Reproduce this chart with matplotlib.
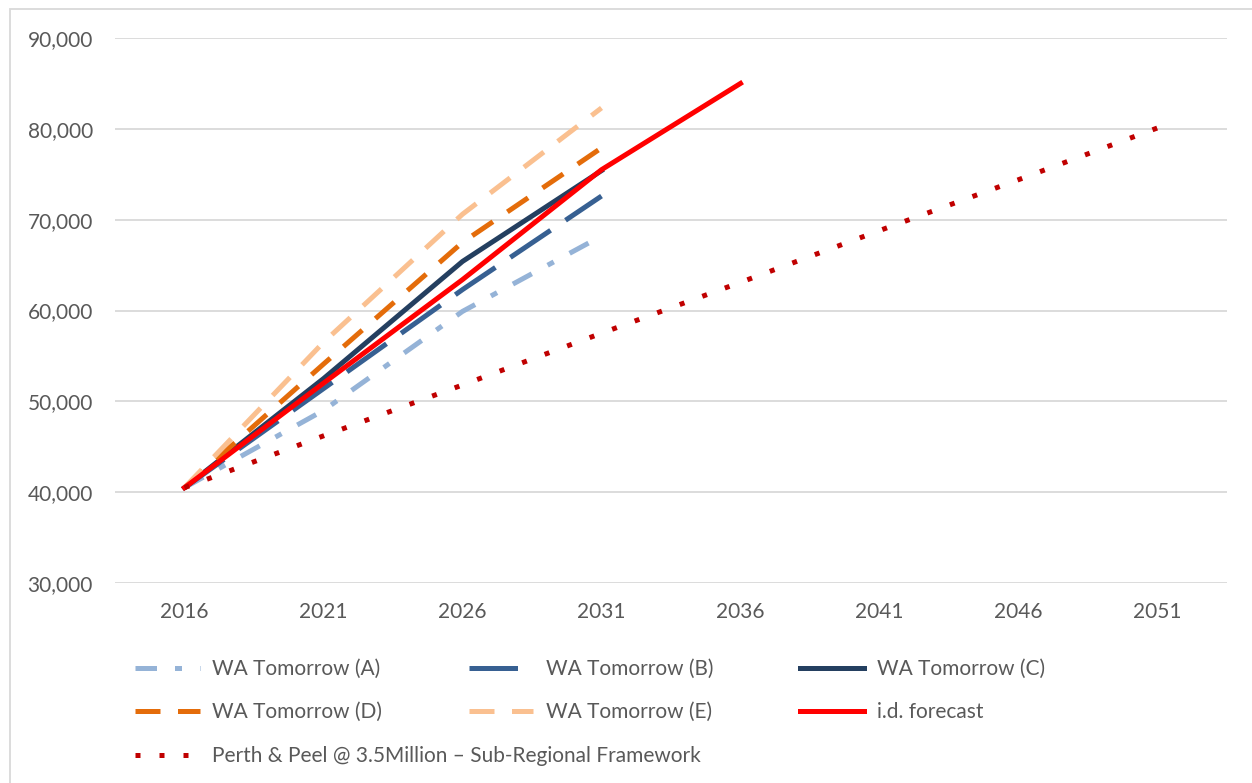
import numpy as np
import matplotlib.pyplot as plt
from matplotlib.patches import Rectangle

plt.rcParams['font.family'] = ['Lato', 'DejaVu Sans']

years = ['2016', '2021', '2026', '2031', '2036', '2041', '2046', '2051']

wa_a = [40500, 49000, 59900, 68200]
wa_b = [40500, 51400, 62300, 72600]
wa_c = [40500, 52500, 65400, 75400]
wa_d = [40500, 54100, 67500, 77900]
wa_e = [40500, 56500, 70600, 82300]
id_forecast = [40500, 52000, 63400, 75500, 85000]
perth_peel = [40500, 46200, 51800, 57500, 63100, 68800, 74400, 80100]

grey_text = '#595959'
lw = 3.6

fig = plt.figure(figsize=(12.52, 7.83), dpi=100)
ax = fig.add_axes([115/1252, 1-583/783, (1227-115)/1252, (583-38)/783])

x = np.arange(len(years))
ax.plot(x[:4], wa_a, color='#95B3D7', lw=lw, dashes=(4.3, 3.6, 1.4, 3.6), label='WA Tomorrow (A)')
ax.plot(x[:4], wa_b, color='#376092', lw=lw, dashes=(9.7, 3.6), label='WA Tomorrow (B)')
ax.plot(x[:4], wa_c, color='#243F60', lw=lw, label='WA Tomorrow (C)')
ax.plot(x[:4], wa_d, color='#E46C0A', lw=lw, dashes=(5, 3.5), label='WA Tomorrow (D)')
ax.plot(x[:4], wa_e, color='#FAC090', lw=lw, dashes=(5, 3.5), label='WA Tomorrow (E)')
ax.plot(x[:5], id_forecast, color='#FF0000', lw=lw, label='i.d. forecast')
ax.plot(x, perth_peel, color='#C00000', lw=lw, dashes=(1, 3.8),
        label='Perth & Peel @ 3.5Million \u2013 Sub-Regional Framework')

ax.set_xlim(-0.5, len(years) - 0.5)
ax.set_ylim(30000, 90000)
ax.set_yticks(np.arange(30000, 90001, 10000))
ax.set_yticklabels(['{:,}'.format(v) for v in range(30000, 90001, 10000)])
ax.set_xticks(x)
ax.set_xticklabels(years)
ax.tick_params(axis='both', length=0, labelsize=15, colors=grey_text)
ax.tick_params(axis='y', pad=16)
ax.tick_params(axis='x', pad=14)
ax.grid(axis='y', color='#D9D9D9', lw=1.3)
ax.set_axisbelow(True)
for s in ax.spines.values():
    s.set_visible(False)

# legend: six series in three columns, the framework line on its own row
h, l = ax.get_legend_handles_labels()
order = [0, 3, 1, 4, 2, 5]
fig.legend([h[i] for i in order], [l[i] for i in order], ncol=3,
           loc='upper left', bbox_to_anchor=(135/1252, 1-659/783),
           frameon=False, fontsize=15, labelcolor=grey_text,
           handlelength=3.1, handletextpad=0.6, columnspacing=4.15,
           labelspacing=1.1, borderpad=0, borderaxespad=0)
fig.legend([h[6]], [l[6]], loc='upper left', bbox_to_anchor=(135/1252, 1-746/783),
           frameon=False, fontsize=15, labelcolor=grey_text,
           handlelength=3.1, handletextpad=0.6, borderpad=0, borderaxespad=0)

# chart border
fig.patches.append(Rectangle((10/1252, -0.1), 1.2, 1.1 - 9/783, transform=fig.transFigure,
                             fill=False, edgecolor='#D9D9D9', lw=1.3))

fig.savefig('out.png', dpi=100)
